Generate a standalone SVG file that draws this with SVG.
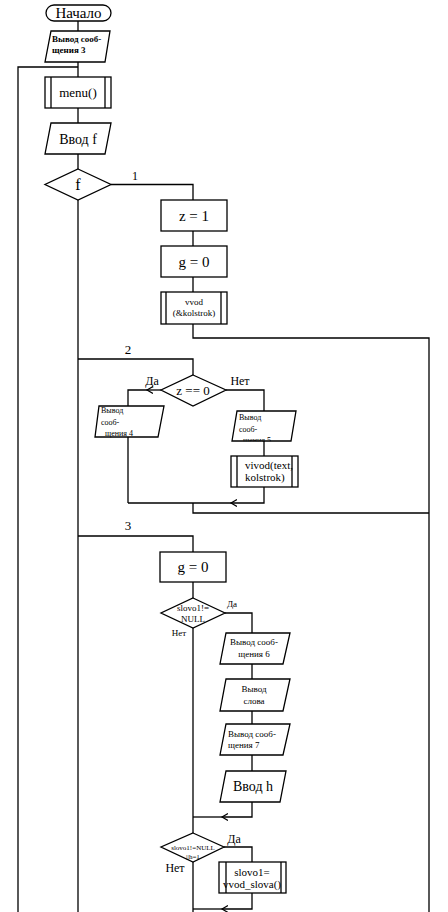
<svg xmlns="http://www.w3.org/2000/svg" width="448" height="912" viewBox="0 0 448 912" font-family="'Liberation Serif', 'Times New Roman', serif">
<defs>
<style>
.s{fill:#fff;stroke:#000;stroke-width:1.3}
.l{fill:none;stroke:#000;stroke-width:1.3}
text{font-family:"Liberation Serif","Times New Roman",serif;fill:#000}
.c{text-anchor:middle}
.b{font-weight:bold}
</style>
<marker id="arr" markerUnits="userSpaceOnUse" markerWidth="10" markerHeight="10" refX="6" refY="3.5" orient="auto">
<path d="M0,0 L6,3.5 L0,7" fill="none" stroke="#000" stroke-width="1.2"/>
</marker>
<clipPath id="clip5"><rect x="230" y="405" width="70" height="36.3"/></clipPath>
</defs>
<rect width="448" height="912" fill="#fff"/>
<g id="connectors">
<path class="l" d="M78,21 V31 M78,62 V77 M78,108 V123 M78,154 V169"/>
<path class="l" d="M78,67 H18 V912"/>
<path class="l" d="M111,184.5 H193 V200 M193,231 V246 M193,277 V292"/>
<path class="l" d="M193,324 V338 H429 V912"/>
<path class="l" d="M78,200 V912"/>
<path class="l" d="M78,359 H193 V375"/>
<path class="l" d="M161,390 H147" marker-end="url(#arr)"/>
<path class="l" d="M147,390 H128 V406 M128,437 V503"/>
<path class="l" d="M226,390 H264 V411 M264,441 V456"/>
<path class="l" d="M264,487 V503 H231" marker-end="url(#arr)"/>
<path class="l" d="M231,503 H128"/>
<path class="l" d="M193,503 V513 H429"/>
<path class="l" d="M78,536 H193 V552 M193,582 V598"/>
<path class="l" d="M225,613 H252 V633 M252,664 V679 M252,711 V724 M252,755 V771"/>
<path class="l" d="M252,802 V817 H222" marker-end="url(#arr)"/>
<path class="l" d="M222,817 H193"/>
<path class="l" d="M193,628 V833 M193,862 V912"/>
<path class="l" d="M224,847 H252 V862"/>
<path class="l" d="M252,893 V909 H222" marker-end="url(#arr)"/>
<path class="l" d="M222,909 H193"/>
<text x="135" y="180" class="c" font-size="12">1</text>
<text x="128" y="354" class="c" font-size="13">2</text>
<text x="128" y="530" class="c" font-size="13">3</text>
<text x="152" y="385" class="c" font-size="12">Да</text>
<text x="240" y="385" class="c" font-size="12">Нет</text>
<text x="232" y="607" class="c" font-size="9">Да</text>
<text x="179" y="636" class="c" font-size="9">Нет</text>
<text x="234" y="843" class="c" font-size="12">Да</text>
<text x="175" y="872" class="c" font-size="12">Нет</text>
</g>
<g id="start">
<rect class="s" x="46" y="5" width="65" height="16" rx="8"/>
<text x="78.5" y="18" class="c" font-size="15">Начало</text>
</g>
<g id="out3">
<polygon class="s" points="51,31 110,31 105,62 45,62"/>
<text x="52" y="42" class="b" font-size="9">Вывод сооб-</text>
<text x="52" y="53" class="b" font-size="9">щения 3</text>
</g>
<g id="menu">
<rect class="s" x="45" y="77" width="66" height="31"/>
<path class="l" d="M51,77 V108 M105,77 V108"/>
<text x="78" y="97" class="c" font-size="13">menu()</text>
</g>
<g id="input-f">
<polygon class="s" points="51,123 111,123 105,154 45,154"/>
<text x="78" y="144" class="c" font-size="14">Ввод f</text>
</g>
<g id="switch-f">
<polygon class="s" points="78,169 111,184.5 78,200 45,184.5"/>
<text x="78" y="190" class="c" font-size="16">f</text>
</g>
<g id="z1">
<rect class="s" x="161" y="200" width="66" height="31"/>
<text x="194" y="221" class="c" font-size="15">z = 1</text>
</g>
<g id="g0a">
<rect class="s" x="161" y="246" width="66" height="31"/>
<text x="194" y="267" class="c" font-size="15">g = 0</text>
</g>
<g id="vvod">
<rect class="s" x="161" y="292" width="66" height="32"/>
<path class="l" d="M166,292 V324 M221,292 V324"/>
<text x="194" y="305" class="c" font-size="9">vvod</text>
<text x="194" y="316" class="c" font-size="9">(&amp;kolstrok)</text>
</g>
<g id="z0">
<polygon class="s" points="193,375 226,390 193,406 161,390"/>
<text x="193" y="395" class="c" font-size="13">z == 0</text>
</g>
<g id="out4">
<polygon class="s" points="99,406 164,406 158,437 95,437"/>
<text x="101" y="413" font-size="8">Вывод</text>
<text x="101" y="425" font-size="8">сооб-</text>
<text x="105" y="436" font-size="8">щения 4</text>
</g>
<g id="out5">
<polygon class="s" points="237,411 296,411 291,441 232,441"/>
<text x="239" y="420" font-size="8">Вывод</text>
<text x="239" y="432" font-size="8">сооб-</text>
<text x="243" y="443" font-size="8" clip-path="url(#clip5)">щения 5</text>
</g>
<g id="vivod">
<rect class="s" x="231" y="456" width="67" height="31"/>
<path class="l" d="M237,456 V487 M292,456 V487"/>
<text x="245" y="469" font-size="11">vivod(text,</text>
<text x="245" y="481" font-size="11">kolstrok)</text>
</g>
<g id="g0b">
<rect class="s" x="160" y="552" width="66" height="30"/>
<text x="193" y="572" class="c" font-size="15">g = 0</text>
</g>
<g id="cond1">
<polygon class="s" points="193,598 225,613 193,628 161,613"/>
<text x="193" y="611" class="c" font-size="9">slovo1!=</text>
<text x="193" y="622" class="c" font-size="9">NULL</text>
</g>
<g id="out6">
<polygon class="s" points="226,633 290,633 283,664 220,664"/>
<text x="254" y="645" class="c" font-size="9">Вывод сооб-</text>
<text x="254" y="657" class="c" font-size="9">щения 6</text>
</g>
<g id="outword">
<polygon class="s" points="226,679 290,679 283,711 220,711"/>
<text x="254" y="692" class="c" font-size="9">Вывод</text>
<text x="254" y="704" class="c" font-size="9">слова</text>
</g>
<g id="out7">
<polygon class="s" points="226,724 290,724 283,755 220,755"/>
<text x="228" y="737" font-size="9">Вывод сооб-</text>
<text x="228" y="748" font-size="9">щения 7</text>
</g>
<g id="input-h">
<polygon class="s" points="226,771 286,771 280,802 220,802"/>
<text x="253" y="791" class="c" font-size="14">Ввод h</text>
</g>
<g id="cond2">
<polygon class="s" points="193,833 224,847 193,862 161,847"/>
<text x="193" y="850" class="c" font-size="7">slovo1!=NULL</text>
<text x="193" y="859" class="c" font-size="7">||h=1</text>
</g>
<g id="vvodslova">
<rect class="s" x="219" y="862" width="67" height="31"/>
<path class="l" d="M226,862 V893 M281,862 V893"/>
<text x="252" y="876" class="c" font-size="11">slovo1=</text>
<text x="252" y="888" class="c" font-size="11">vvod_slova()</text>
</g>
</svg>
